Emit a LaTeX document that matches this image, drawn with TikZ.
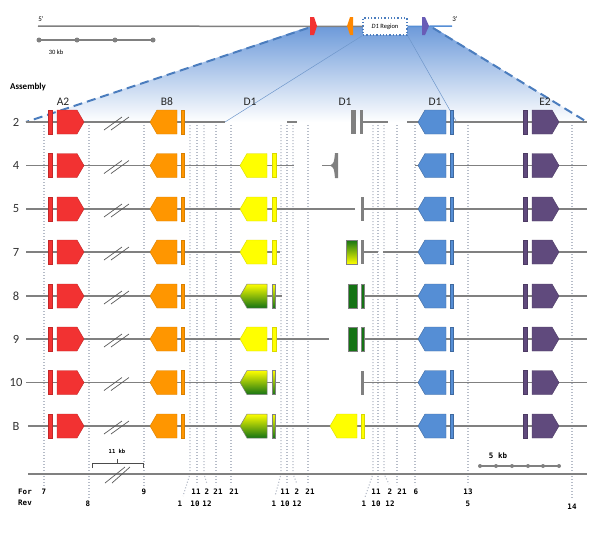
\documentclass[tikz,border=0pt]{standalone}
\usepackage{fontspec}
\setmainfont{Carlito}
\newfontfamily\labfont{DejaVu Sans Mono}
\usetikzlibrary{positioning}
\definecolor{linegray}{RGB}{128,128,128}
\definecolor{dotgray}{RGB}{182,188,200}
\definecolor{dashblue}{RGB}{75,125,190}
\definecolor{shadeblue}{RGB}{110,155,218}
\definecolor{genered}{RGB}{242,50,50}
\definecolor{geneorange}{RGB}{255,150,0}
\definecolor{geneyellow}{RGB}{255,255,0}
\definecolor{genegreen}{RGB}{20,115,20}
\definecolor{geneblue}{RGB}{85,142,213}
\definecolor{genepurple}{RGB}{96,74,125}
\newcommand{\fwdgene}[4]{\path[#4] (#1,#3-12) -- (#2-7,#3-12) -- (#2,#3) -- (#2-7,#3+12) -- (#1,#3+12) -- cycle;}
\newcommand{\revgene}[4]{\path[#4] (#2,#3-12) -- (#1+7,#3-12) -- (#1,#3) -- (#1+7,#3+12) -- (#2,#3+12) -- cycle;}
\newcommand{\exonbar}[4]{\path[#4] (#1,#3-12) rectangle (#2,#3+12);}
\begin{document}
\begin{tikzpicture}[x=1pt,y=-1pt,
  chrom/.style={linegray, line width=1.5pt},
  guide/.style={dotgray, line width=1.1pt, dash pattern=on 1.1pt off 1.9pt},
  zoomedge/.style={dashblue, line width=2pt, dash pattern=on 9pt off 5pt},
  breakmark/.style={black!65, line width=.7pt},
  red gene/.style={fill=genered, draw=genered!80!black, line width=.4pt},
  orange gene/.style={fill=geneorange, draw=geneorange!85!black, line width=.4pt},
  yellow gene/.style={fill=geneyellow, draw=geneyellow!85!black, line width=.4pt},
  mixed gene/.style={top color=geneyellow, bottom color=genegreen, draw=linegray, line width=.5pt},
  green gene/.style={fill=genegreen, draw=linegray, line width=.4pt},
  gray gene/.style={fill=linegray},
  blue gene/.style={fill=geneblue, draw=geneblue!75!black, line width=.4pt},
  purple gene/.style={fill=genepurple, draw=genepurple!80!black, line width=.4pt},
  rowlab/.style={font=\fontsize{12.5}{14}\selectfont, text=black!80},
  genename/.style={font=\fontsize{11.5}{13}\selectfont, text=black!85},
  primer/.style={font=\labfont\bfseries\fontsize{7.5}{8}\selectfont, inner sep=0pt}]
\useasboundingbox (0,0) rectangle (600,533);

\shade[top color=shadeblue, bottom color=white] (308,27) -- (433,27) -- (587,122) -- (26,122) -- cycle;
\draw[zoomedge] (308,28) -- (26,122);
\draw[zoomedge] (433,28) -- (587,122);

\node[draw=dashblue, dotted, line width=1.3pt, fill=white, minimum width=44pt, minimum height=17pt, inner sep=0pt,
  font=\fontsize{6.5}{7}\selectfont] (region) at (385,26.5) {\textit{D1} Region};
\draw[chrom] (38,26) -- (region.west);
\draw[geneblue, line width=1.5pt] (region.east) -- (452,26);
\draw[dashblue!80, line width=.5pt] (region.south west) -- (225,122);
\draw[dashblue!80, line width=.5pt] (region.south east) -- (456,121);
\path[fill=genered] (310,17) -- (314,17) -- (317,26) -- (314,35) -- (310,35) -- cycle;
\path[fill=geneorange!90!red] (353,17) -- (350,17) -- (347,26) -- (350,35) -- (353,35) -- cycle;
\path[fill=genepurple!70!blue!80!white] (422,17) -- (425,17) -- (429,26) -- (425,35) -- (422,35) -- cycle;
\node[font=\fontsize{7}{8}\selectfont] (fivep) at (41,19) {5'};
\node[font=\fontsize{7}{8}\selectfont] (threep) at (455,19) {3'};
\draw[chrom] (39,40) -- (153,40);
\foreach \x in {39,77,115,153}
  \fill[linegray] (\x,40) circle (2.5);
\node[font=\fontsize{6.5}{7}\selectfont] (bigscale) at (56,52) {30 kb};
\node[font=\bfseries\fontsize{9}{10}\selectfont] (assembly) at (28,87) {Assembly};

\node[genename] (nA2) at (63,102) {A2};
\node[genename] (nB8) at (167,102) {B8};
\node[genename] (nD1a) at (250,102) {D1};
\node[genename] (nD1b) at (345,102) {D1};
\node[genename] (nD1c) at (435,102) {D1};
\node[genename] (nE2) at (545,102) {E2};

\foreach \x/\xe/\ye in {44/44/487, 89/89/498, 144/144/487, 190/183/496, 197/197/485, 204/207/484,
  216/216/485, 231/231/485, 281/275/496, 287/287/485, 293/297/484, 308/308/485,
  373/365/497, 378/378/485, 384/389/484, 397/397/485, 415/415/485, 468/468/485, 572/572/498}
  \draw[guide] (\x,125) -- (\x,474) -- (\xe,\ye);

\draw[chrom] (26,122) -- (225,122) (287,122) -- (297,122) (360,122) -- (388,122) (407,122) -- (587,122);
\draw[chrom] (26,165.5) -- (294,165.5) (322,165.5) -- (333,165.5) (415,165.5) -- (587,165.5);
\draw[chrom] (26,209) -- (355,209) (364,209) -- (587,209);
\draw[chrom] (26,252) -- (280,252) (364,252) -- (378,252) (383,252) -- (587,252);
\draw[chrom] (26,296) -- (282,296) (364,296) -- (587,296);
\draw[chrom] (26,339) -- (329,339) (364,339) -- (587,339);
\draw[chrom] (26,382.5) -- (280,382.5) (364,382.5) -- (587,382.5);
\draw[chrom] (28,426) -- (587,426);
\draw[chrom] (28,474) -- (587,474);

\foreach \r/\y in {2/122, 4/165.5, 5/209, 7/252, 8/296, 9/339, 10/382.5, B/426}{
  \node[rowlab] (row\r) at (16,\y) {\r};
  \exonbar{48}{52}{\y}{red gene}
  \fwdgene{57}{84}{\y}{red gene}
  \draw[breakmark] (104,\y+8) -- (122,\y-5) (111,\y+8) -- (129,\y-5);
  \revgene{150}{177}{\y}{orange gene}
  \exonbar{181}{184}{\y}{orange gene}
  \revgene{418}{446}{\y}{blue gene}
  \exonbar{450}{453}{\y}{blue gene}
  \exonbar{523}{527}{\y}{purple gene}
  \fwdgene{532}{559}{\y}{purple gene}
}

\exonbar{350.5}{356}{122}{gray gene}
\exonbar{360}{363}{122}{gray gene}
\fill[linegray] (330,165.5) .. controls (334,163) .. (335,153) -- (338,153) -- (338,178) -- (335,178) .. controls (334,168) .. (330,165.5) -- cycle;

\foreach \y in {165.5, 209, 252, 339}{
  \revgene{240}{267}{\y}{yellow gene}
  \exonbar{272}{276}{\y}{yellow gene}
}
\foreach \y in {296, 382.5, 426}{
  \revgene{240}{267}{\y}{mixed gene}
  \exonbar{272}{275.5}{\y}{mixed gene}
}
\exonbar{361}{364}{209}{gray gene}
\path[top color=genegreen, bottom color=geneyellow, draw=linegray, line width=.5pt] (346,240) rectangle (357,264);
\exonbar{361}{364}{252}{gray gene}
\exonbar{348}{357}{296}{green gene}
\exonbar{361}{364}{296}{green gene}
\exonbar{348}{357}{339}{green gene}
\exonbar{361}{364}{339}{green gene}
\exonbar{361}{364}{382.5}{gray gene}
\revgene{330}{357}{426}{yellow gene}
\exonbar{361}{364}{426}{yellow gene}

\draw[breakmark] (105,483) -- (125,467) (112,483) -- (130,467);
\draw[black!70, line width=.8pt] (92,468) -- (92,463) -- (143,463) -- (143,468) (117,463) -- (117,459);
\node[primer, font=\labfont\bfseries\fontsize{5.5}{6}\selectfont] (smallscale) at (117,451) {11 kb};
\draw[linegray, line width=1.5pt] (480,466) -- (559,466);
\foreach \x in {480,496,512,528,543,559}
  \fill[linegray] (\x,466) circle (2);
\node[primer, font=\labfont\bfseries\fontsize{7.5}{8}\selectfont] (fivekb) at (498,456) {5 kb};

\node[primer] (fwd) at (25,492) {For};
\node[primer] (rev) at (25,503) {Rev};
\foreach \x/\t in {44/7, 144/9, 196/11, 207/2, 218/21, 234/21, 285/11, 297/2, 310/21,
  376/11, 390/2, 402/21, 416/6, 468/13}
  \node[primer] (f\x) at (\x,492) {\t};
\foreach \x/\t in {88/8, 180/1, 195/10, 207/12, 274/1, 285/10, 297/12, 364/1, 376/10, 390/12, 468/5}
  \node[primer] (r\x) at (\x,503.5) {\t};
\node[primer] (r572) at (572,507) {14};
\end{tikzpicture}
\end{document}
